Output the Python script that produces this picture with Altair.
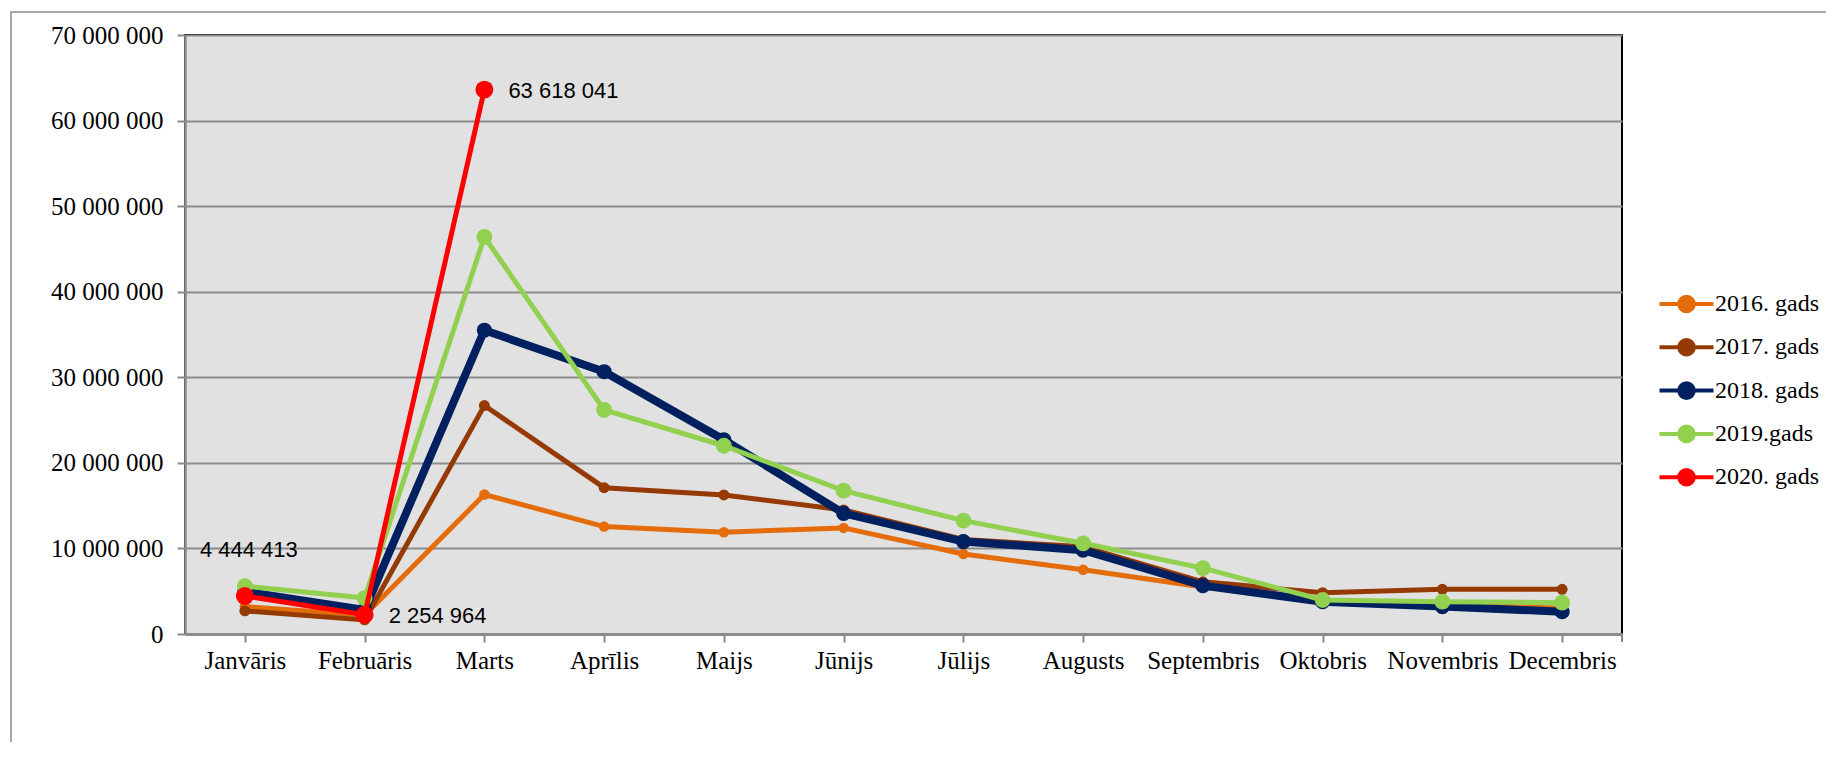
import altair as alt
import pandas as pd

months = ["Janvāris", "Februāris", "Marts", "Aprīlis", "Maijs", "Jūnijs",
          "Jūlijs", "Augusts", "Septembris", "Oktobris", "Novembris", "Decembris"]

series_names = ["2016. gads", "2017. gads", "2018. gads", "2019.gads", "2020. gads"]
series_colors = ["#E46C0A", "#953A05", "#002060", "#92D050", "#FF0000"]
series_widths = [5, 5, 8, 5, 5]
series_sizes = [110, 120, 230, 250, 320]

v2016 = [3200000, 2200000, 16300000, 12550000, 11900000, 12400000, 9350000, 7500000, 5500000, 3900000, 3500000, 3000000]
v2017 = [2700000, 1650000, 26700000, 17100000, 16250000, 14500000, 11050000, 10200000, 6100000, 4830000, 5220000, 5220000]
v2018 = [4950000, 2800000, 35500000, 30650000, 22700000, 14100000, 10800000, 9800000, 5650000, 3780000, 3200000, 2600000]
v2019 = [5600000, 4200000, 46400000, 26200000, 22000000, 16750000, 13250000, 10600000, 7700000, 3970000, 3780000, 3660000]
v2020 = [4444413, 2254964, 63618041]

all_values = [v2016, v2017, v2018, v2019, v2020]

SERIF = "Liberation Serif, Times New Roman, serif"

rows = []
for order, (name, vals) in enumerate(zip(series_names, all_values)):
    for m, v in zip(months, vals):
        rows.append({"month": m, "series": name, "value": v, "order": order,
                     "label": f"{v:,}".replace(",", " ")})
df = pd.DataFrame(rows)

x_enc = alt.X("month:N", sort=months, title=None,
              scale=alt.Scale(domain=months, paddingInner=0, paddingOuter=0),
              axis=alt.Axis(bandPosition=0, labelAngle=0,
                            labelFont=SERIF, labelFontSize=25,
                            labelColor="#000000", labelPadding=6,
                            tickSize=8, tickColor="#888888", tickWidth=2,
                            domainColor="#8c8c8c", domainWidth=3, grid=False))
y_enc = alt.Y("value:Q", title=None,
              scale=alt.Scale(domain=[0, 70000000], nice=False),
              axis=alt.Axis(values=[0, 10000000, 20000000, 30000000, 40000000, 50000000, 60000000, 70000000],
                            labelExpr="replace(format(datum.value, ','), regexp(',', 'g'), ' ')",
                            labelFont=SERIF, labelFontSize=25, labelColor="#000000",
                            labelPadding=14, tickSize=8, tickColor="#888888", tickWidth=2,
                            domainColor="#8c8c8c", domainWidth=2.5,
                            grid=True, gridColor="#8c8c8c", gridWidth=2))

color_scale = alt.Scale(domain=series_names, range=series_colors)

legend = alt.Legend(
    title=None, orient="none", legendX=1486, legendY=253.5,
    symbolType="M-2,0H2M-0.54,0A0.54,0.54,0,1,1,0.54,0A0.54,0.54,0,1,1,-0.54,0Z",
    symbolSize=729, symbolStrokeWidth=4, symbolOpacity=1,
    labelFont=SERIF, labelFontSize=24, labelColor="#000000",
    labelOffset=13, rowPadding=12.3, labelLimit=300,
)

layers = []
for order, name in enumerate(series_names):
    sub = alt.Chart(df).transform_filter(alt.datum.series == name).encode(x=x_enc, y=y_enc)
    layers.append(sub.mark_line(strokeWidth=series_widths[order]).encode(
        stroke=alt.Stroke("series:N", scale=color_scale, legend=legend)))
    layers.append(sub.mark_point(filled=True, opacity=1, size=series_sizes[order], shape="circle").encode(
        fill=alt.Fill("series:N", scale=color_scale, legend=legend)))

red = df[df["series"] == "2020. gads"]
lab_jan = alt.Chart(red[red["month"] == "Janvāris"]).mark_text(
    align="center", baseline="middle", dx=4, dy=-46,
    font="Liberation Sans", fontSize=22, color="#000000"
).encode(x=x_enc, y=y_enc, text="label:N")
lab_other = alt.Chart(red[red["month"] != "Janvāris"]).mark_text(
    align="left", baseline="middle", dx=24, dy=1,
    font="Liberation Sans", fontSize=22, color="#000000"
).encode(x=x_enc, y=y_enc, text="label:N")

frame_df = pd.DataFrame({"k": [0]})
frame = alt.Chart(frame_df).mark_rect(fillOpacity=0, stroke="#8c8c8c", strokeWidth=1.5).encode(
    x=alt.value(-174), x2=alt.value(2200), y=alt.value(-23), y2=alt.value(1200)
)
end_tick = alt.Chart(frame_df).mark_rule(color="#888888", strokeWidth=2).encode(
    x=alt.value(1437), y=alt.value(599), y2=alt.value(607)
)

chart = alt.layer(frame, *layers, lab_jan, lab_other, end_tick).properties(
    width=1437, height=599,
    autosize=alt.AutoSizeParams(type="none"),
    padding={"left": 177, "top": 27, "right": 204, "bottom": 108},
    background="#ffffff",
).configure_view(
    fill="#E1E1E1", stroke="#000000", strokeWidth=2
).configure_axis(
    labelFont=SERIF
).configure_legend(
    labelFont=SERIF
)

chart.save("out.html", embed_options={"renderer": "svg", "actions": False})
